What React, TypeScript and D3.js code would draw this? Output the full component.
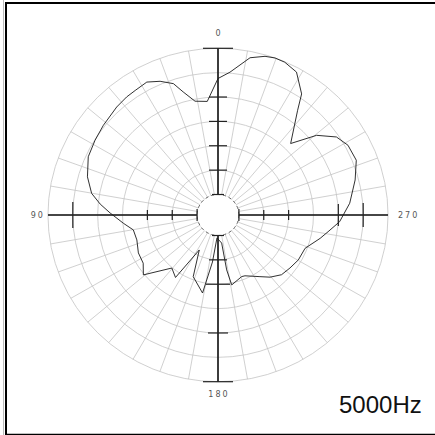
import * as d3 from 'd3';

// polar response, angle in degrees (0 = front/top, counter-clockwise), level in dB
const ANGLES = [0, 5.3, 11.2, 15.5, 18.4, 23.0, 27.7, 33.1, 37.2, 42.6, 51.4, 58.2, 65.4, 73.4, 80.1, 84.6, 88.9,
    95.1, 100.2, 107.4, 115.9, 123.3, 129.3, 139.5, 146.3, 152.3, 158.5, 169.0, 173.4, 177.5,
    187.3, 188.8, 190.9, 200.7, 203.5, 213.7, 219.4, 226.2, 233.1, 240.3, 248.7, 256.9, 261.2, 266.8,
    275.2, 284.6, 292.0, 298.7, 303.9, 309.5, 315.1, 323.3, 325.9, 331.7, 336.8, 340.4, 343.8, 348.7, 355.3];
const LEVELS = [-6.2, -10.8, -10.4, -8.0, -5.8, -4.4, -3.4, -3.7, -3.8, -4.1, -4.7, -5.1, -5.5, -6.8, -8.4, -10.4, -12.5,
    -15.1, -16.9, -17.1, -16.4, -16.2, -14.8, -19.9, -18.8, -26.1, -20.6, -17.9, -24.5, -29.5,
    -28.4, -22.8, -19.6, -20.7, -20.6, -19.0, -17.7, -16.5, -16.1, -15.6, -15.4, -13.1, -11.8, -9.7,
    -7.6, -5.7, -4.2, -4.4, -5.5, -8.5, -13.5, -7.4, -4.2, -0.9, -0.1, 0, -0.3, -1.3, -4.8];

const RING_DB = [-30, -25, -20, -15, -10, -5, 0];
const SPOKES = d3.range(0, 360, 10);
const AXIS_LABELS = ['0', '90', '180', '270'];
const TITLE = '5000Hz';

// axis ticks: [angle, ring index, half length]
const TICKS: [number, number, number][] = [
    [0, 0, 6], [0, 1, 9], [0, 2, 9], [0, 3, 9], [0, 4, 9], [0, 6, 15],
    [180, 0, 6], [180, 1, 9], [180, 2, 12], [180, 4, 10], [180, 6, 15],
    [90, 0, 6], [90, 1, 5], [90, 2, 5], [90, 5, 13],
    [270, 0, 6], [270, 1, 5], [270, 2, 5], [270, 4, 11], [270, 5, 12],
];

const W = 435, H = 435;
const cx = 218, cy = 215;
const sx = 1.02; // plot is slightly wider than tall

export default function App() {
    const r = d3.scaleLinear().domain([-30, 0]).range([20.5, 166.7]);
    const pt = (deg: number, rad: number): [number, number] => {
        const a = (deg * Math.PI) / 180;
        return [cx - rad * sx * Math.sin(a), cy - rad * Math.cos(a)];
    };
    const r0 = r(-30), r1 = r(0);

    const curve = d3.line<number>()
        .x((_, i) => pt(ANGLES[i], r(LEVELS[i]))[0])
        .y((_, i) => pt(ANGLES[i], r(LEVELS[i]))[1])
        .curve(d3.curveLinearClosed);

    const labelPos: Record<string, [number, number, string]> = {
        '0': [cx + 1, cy - r1 - 12, 'middle'],
        '90': [cx - r1 * sx - 3, cy + 2.5, 'end'],
        '180': [cx + 1, cy + r1 + 15, 'middle'],
        '270': [cx + r1 * sx + 10, cy + 2.5, 'start'],
    };

    return (
        <svg width={W} height={H} style={{ position: 'absolute', left: 0, top: 0, background: '#fff' }}>
            {/* frame */}
            <line x1={3.5} y1={0} x2={3.5} y2={H} stroke="#bbb" strokeWidth={1} />
            <line x1={6} y1={2} x2={6} y2={H} stroke="#000" strokeWidth={2} />
            <line x1={5} y1={3} x2={W} y2={3} stroke="#000" strokeWidth={2} />
            <line x1={5} y1={434.5} x2={W} y2={434.5} stroke="#000" strokeWidth={1.5} />

            {/* grid */}
            <g fill="none" stroke="#c4c4c4" strokeWidth={0.8}>
                {RING_DB.map(d => (
                    <ellipse key={d} cx={cx} cy={cy} rx={r(d) * sx} ry={r(d)} />
                ))}
                {SPOKES.map(a => {
                    const [x1, y1] = pt(a, r0);
                    const [x2, y2] = pt(a, r1);
                    return <line key={a} x1={x1} y1={y1} x2={x2} y2={y2} />;
                })}
            </g>
            <ellipse cx={cx} cy={cy} rx={r0 * sx} ry={r0} fill="#fff" stroke="#666" strokeWidth={1} strokeDasharray="3,3" />

            {/* axes */}
            <g stroke="#111" strokeWidth={1.6}>
                <line x1={cx} y1={cy - r1} x2={cx} y2={cy - r0} />
                <line x1={cx} y1={cy + r0} x2={cx} y2={cy + r1} />
                <line x1={cx - r1 * sx} y1={cy} x2={cx - r0 * sx} y2={cy} />
                <line x1={cx + r0 * sx} y1={cy} x2={cx + r1 * sx} y2={cy} />
            </g>
            <g stroke="#222" strokeWidth={1.2}>
                {TICKS.map(([a, k, h], i) => {
                    const [x, y] = pt(a, r(RING_DB[k]));
                    const vertical = a === 0 || a === 180;
                    return vertical
                        ? <line key={i} x1={x - h} y1={y} x2={x + h} y2={y} />
                        : <line key={i} x1={x} y1={y - h} x2={x} y2={y + h} />;
                })}
            </g>

            {/* response */}
            <path d={curve(LEVELS) ?? ''} fill="none" stroke="#1a1a1a" strokeWidth={0.9} />

            {AXIS_LABELS.map(l => {
                const [x, y, anchor] = labelPos[l];
                return (
                    <text key={l} x={x} y={y} textAnchor={anchor as any} fontFamily="DejaVu Sans" fontSize={8}
                        letterSpacing={2} fill="#555">{l}</text>
                );
            })}
            <text x={339} y={413} fontFamily="Liberation Sans, Arial" fontSize={24} fill="#111">{TITLE}</text>
        </svg>
    );
}
